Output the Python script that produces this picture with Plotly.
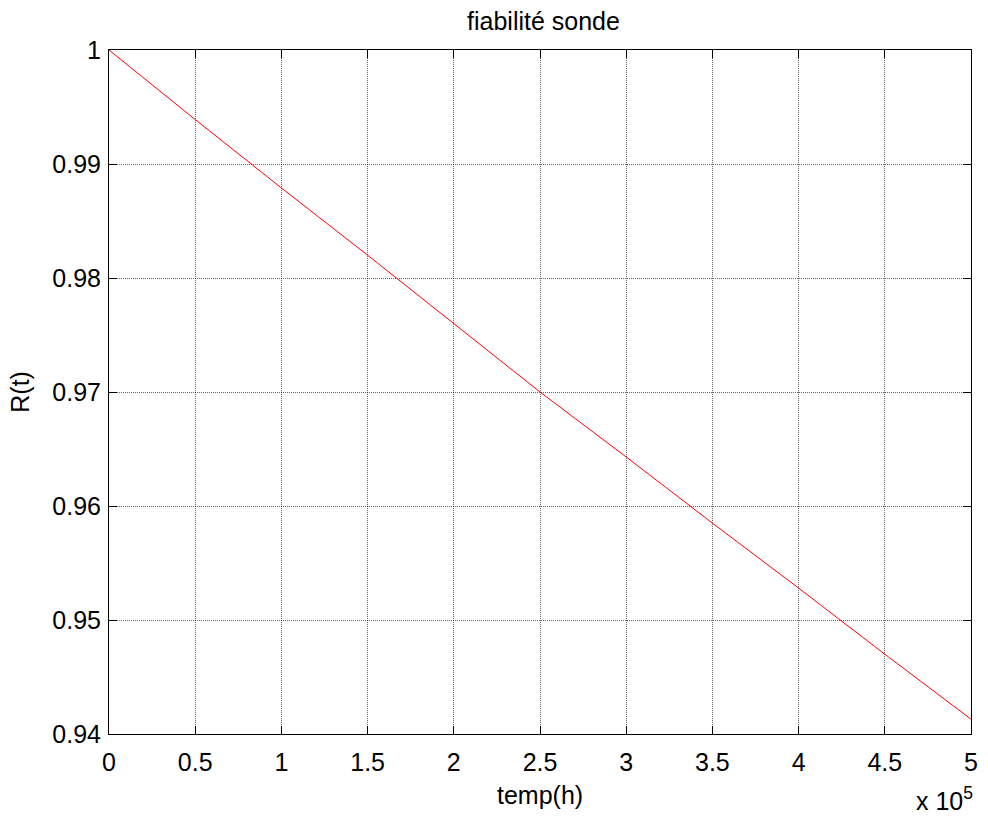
import plotly.graph_objects as go

# Reliability of the probe over time
temps_h = [0, 50000, 100000, 150000, 200000, 250000, 300000, 350000, 400000, 450000, 500000]
fiabilite = [1.0, 0.9939, 0.9879, 0.9820, 0.9760, 0.9700, 0.9643, 0.9585, 0.9528, 0.9470, 0.9413]

x_tickvals = [0, 50000, 100000, 150000, 200000, 250000, 300000, 350000, 400000, 450000, 500000]
x_ticktext = ["0", "0.5", "1", "1.5", "2", "2.5", "3", "3.5", "4", "4.5", "5"]
y_tickvals = [0.94, 0.95, 0.96, 0.97, 0.98, 0.99, 1.0]
y_ticktext = ["0.94", "0.95", "0.96", "0.97", "0.98", "0.99", "1"]

FONT = "Liberation Sans, Arial, Helvetica, sans-serif"
FS = 25

fig = go.Figure()
fig.add_trace(go.Scatter(
    x=temps_h, y=fiabilite, mode="lines",
    line=dict(color="#ff0000", width=1),
    showlegend=False, hoverinfo="skip",
))

axis_common = dict(
    showline=True, linecolor="black", linewidth=1, mirror="ticks",
    ticks="inside", ticklen=8, tickcolor="black", tickwidth=1,
    showgrid=True, gridcolor="rgba(0,0,0,0.6)", griddash="1px,1px", gridwidth=1,
    zeroline=False,
    tickfont=dict(family=FONT, size=FS, color="black"),
)

fig.update_xaxes(range=[0, 500000], tickvals=x_tickvals, ticktext=x_ticktext,
                 ticklabelstandoff=6, **axis_common)
fig.update_yaxes(range=[0.94, 1.0], tickvals=y_tickvals, ticktext=y_ticktext,
                 ticklabelstandoff=2, **axis_common)

fig.update_layout(
    width=988, height=823,
    margin=dict(l=109, r=10, t=50, b=89),
    paper_bgcolor="white", plot_bgcolor="white",
    font=dict(family=FONT, size=FS, color="black"),
    title=dict(text="fiabilité sonde", x=(109 + 978) / 2 / 988, xanchor="center",
               y=1 - 21 / 823, yanchor="middle",
               font=dict(family=FONT, size=FS, color="black")),
    annotations=[
        dict(text="temp(h)", xref="paper", yref="paper", x=0.5, y=-61 / 684,
             xanchor="center", yanchor="middle", showarrow=False,
             font=dict(family=FONT, size=FS, color="black")),
        dict(text="R(t)", xref="paper", yref="paper", x=(19 - 109) / 869, y=0.5,
             xanchor="center", yanchor="middle", textangle=-90, showarrow=False,
             font=dict(family=FONT, size=FS, color="black")),
        dict(text="x 10<sup>5</sup>", xref="paper", yref="paper", x=(982 - 109) / 869,
             y=-(817 - 734) / 684, xanchor="right", yanchor="bottom", showarrow=False,
             font=dict(family=FONT, size=FS, color="black")),
    ],
)

fig.write_html("out.html")
